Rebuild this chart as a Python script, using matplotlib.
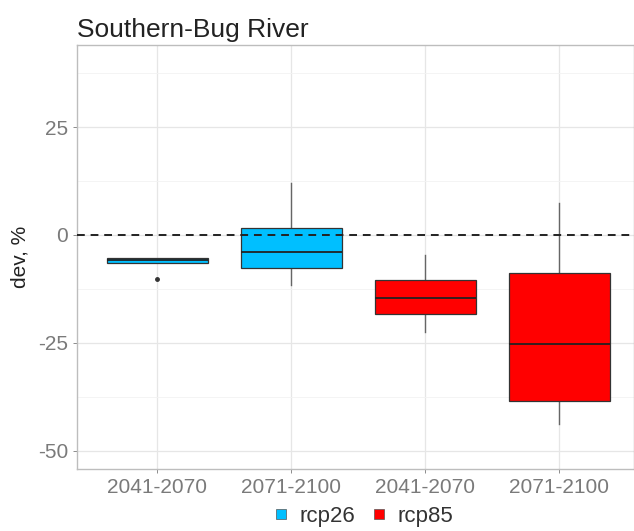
import matplotlib.pyplot as plt
from matplotlib.lines import Line2D

plt.rcParams["font.family"] = ["Liberation Sans", "DejaVu Sans"]
plt.rcParams["axes.unicode_minus"] = False

# box statistics (dev, %)
periods = ["2041-2070", "2071-2100", "2041-2070", "2071-2100"]
scenario = ["rcp26", "rcp26", "rcp85", "rcp85"]
med = [-5.9, -4.0, -14.5, -25.3]
q1 = [-6.5, -7.7, -18.4, -38.4]
q3 = [-5.3, 1.6, -10.4, -8.9]
wlo = [-6.5, -11.6, -22.4, -43.8]
whi = [-5.3, 12.0, -4.6, 7.3]
outliers = [[-10.1], [], [], []]

colors = {"rcp26": "#00BFFF", "rcp85": "#FF0000"}

fig = plt.figure(figsize=(6.34, 5.31), dpi=100)
ax = fig.add_axes([77 / 634, 62 / 531, 557 / 634, 424 / 531])

stats = []
for i in range(len(periods)):
    stats.append(dict(med=med[i], q1=q1[i], q3=q3[i], whislo=wlo[i], whishi=whi[i],
                      fliers=outliers[i]))

pos = list(range(1, len(periods) + 1))
bp = ax.bxp(stats, positions=pos, widths=0.75, patch_artist=True, showcaps=False,
            boxprops=dict(edgecolor="#333333", linewidth=0.9),
            medianprops=dict(color="#222222", linewidth=1.3),
            whiskerprops=dict(color="#666666", linewidth=1.0),
            flierprops=dict(marker="o", markersize=2.5, markerfacecolor="#333333",
                            markeredgecolor="#333333"))
for patch, sc in zip(bp["boxes"], scenario):
    patch.set_facecolor(colors[sc])
for w in bp["whiskers"]:
    w.set_zorder(1)

ax.axhline(0, color="#222222", linestyle=(0, (4, 3)), linewidth=1.4, zorder=3)

ax.set_xlim(0.4, 0.4 + 557 / 134)
ax.set_ylim(-54.2, 44)
ax.set_yticks([-50, -25, 0, 25])
ax.set_yticks([-37.5, -12.5, 12.5, 37.5], minor=True)
ax.set_xticks(pos)
ax.set_xticklabels(periods)
ax.tick_params(axis="both", labelsize=15, colors="#7a7a7a", length=3, width=0.6)
ax.tick_params(axis="y", which="minor", length=0)
ax.grid(True, which="major", color="#e6e6e6", linewidth=0.9)
ax.grid(True, which="minor", axis="y", color="#f2f2f2", linewidth=0.6)
ax.set_axisbelow(True)
for s in ax.spines.values():
    s.set_color("#bdbdbd")
    s.set_linewidth(1.0)

ax.set_ylabel("dev, %", fontsize=15, color="#222222", labelpad=6)
ax.set_title("Southern-Bug River", loc="left", fontsize=19, color="#222222", pad=6)

handles = [Line2D([], [], marker="s", linestyle="none", markersize=7,
                  markerfacecolor=colors[k], markeredgecolor="#555555",
                  markeredgewidth=0.5, label=k) for k in colors]
leg = fig.legend(handles=handles, loc="lower center", bbox_to_anchor=(0.572, -0.03), ncol=2,
                 frameon=False, fontsize=16, handlelength=0.8, handletextpad=0.4,
                 columnspacing=0.7)
for t in leg.get_texts():
    t.set_color("#333333")

fig.savefig("out.png", dpi=100)
plt.close()
